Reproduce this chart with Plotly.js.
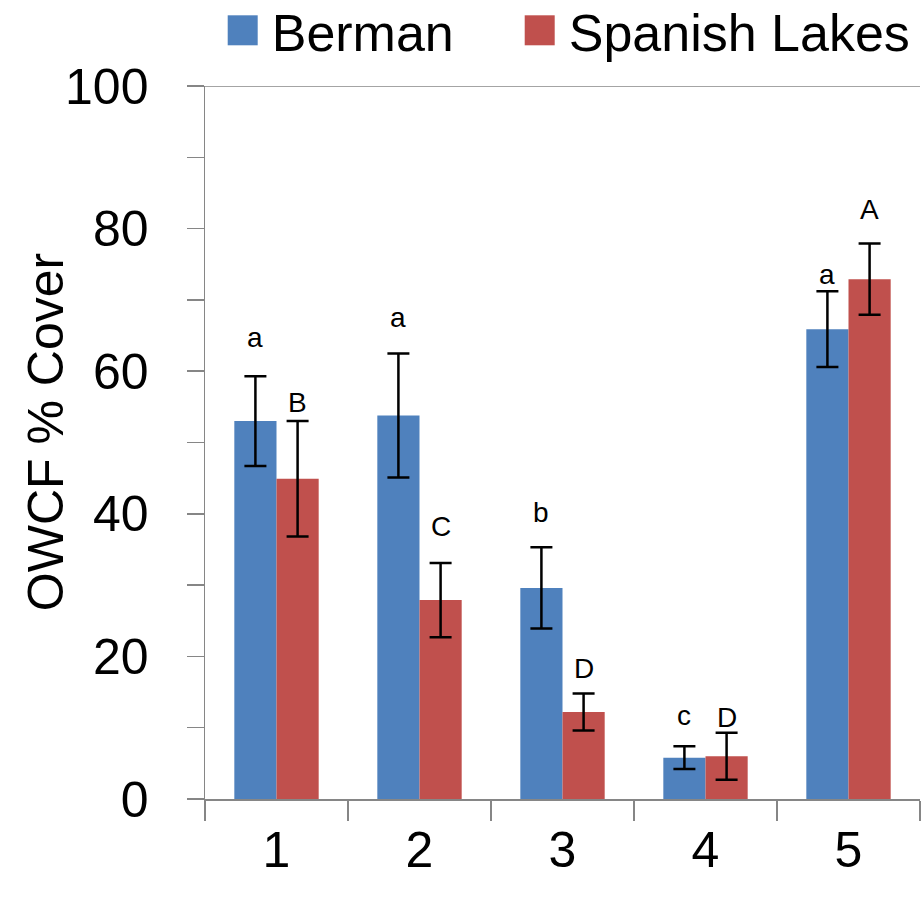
<!DOCTYPE html>
<html>
<head>
<meta charset="utf-8">
<script src="https://cdn.plot.ly/plotly-3.0.1.min.js"></script>
<style>html,body{margin:0;padding:0;background:#fff;}#chart{width:922px;height:901px;}</style>
</head>
<body>
<div id="chart"></div>
<script>
const categories = ['1', '2', '3', '4', '5'];
const berman = [53.0, 53.8, 29.6, 5.8, 65.9];
const bermanErr = [6.3, 8.7, 5.7, 1.6, 5.3];
const spanish = [44.9, 27.9, 12.2, 6.0, 72.9];
const spanishErr = [8.1, 5.2, 2.6, 3.3, 5.0];
const bermanLetters = ['a', 'a', 'b', 'c', 'a'];
const spanishLetters = ['B', 'C', 'D', 'D', 'A'];
const bermanLetterY = [63.3, 66.1, 38.7, 10.2, 72.1];
const spanishLetterY = [54.1, 36.7, 16.8, 10.0, 81.2];

const FONT = 'Liberation Sans, Arial, sans-serif';
const BLUE = '#4F81BD';
const RED = '#C0504D';
const AXIS = '#868686';
const W = 922, H = 901;
const margin = {l: 205, r: 2, t: 86, b: 102};
const bargap = 0.41;

const plotW = W - margin.l - margin.r;
const catW = plotW / categories.length;
const barW = catW * (1 - bargap) / 2;

const traces = [
  {type: 'bar', name: 'Berman', x: categories, y: berman,
   marker: {color: BLUE},
   error_y: {type: 'data', array: bermanErr, visible: true, color: '#000', thickness: 2.5, width: 11}},
  {type: 'bar', name: 'Spanish Lakes', x: categories, y: spanish,
   marker: {color: RED},
   error_y: {type: 'data', array: spanishErr, visible: true, color: '#000', thickness: 2.5, width: 11}}
];

const annotations = [];
categories.forEach((c, i) => {
  annotations.push({xref: 'x', x: i, y: bermanLetterY[i], text: bermanLetters[i], showarrow: false,
    xshift: -barW / 2, yanchor: 'bottom', yshift: -7, font: {family: FONT, size: 28, color: '#000'}});
  annotations.push({xref: 'x', x: i, y: spanishLetterY[i], text: spanishLetters[i], showarrow: false,
    xshift: barW / 2, yanchor: 'bottom', yshift: -7, font: {family: FONT, size: 28, color: '#000'}});
});

const layout = {
  width: W, height: H,
  margin: margin,
  paper_bgcolor: '#fff', plot_bgcolor: '#fff',
  font: {family: FONT, color: '#000'},
  barmode: 'group', bargap: bargap, bargroupgap: 0,
  showlegend: true,
  legend: {orientation: 'h', xref: 'container', yref: 'container', x: 0.2513, y: 1.0,
    xanchor: 'left', yanchor: 'top', font: {family: FONT, size: 52, color: '#000'},
    entrywidth: 252, bgcolor: 'rgba(0,0,0,0)'},
  xaxis: {type: 'category', range: [-0.5, 4.5], showline: true, linecolor: AXIS, linewidth: 1.5,
    ticks: 'outside', tickson: 'boundaries', ticklen: 20, tickcolor: AXIS, tickwidth: 1.5,
    tickfont: {family: FONT, size: 50, color: '#000'}, ticklabelstandoff: 6,
    showgrid: false, zeroline: false},
  yaxis: {range: [0, 100], dtick: 20, showline: true, linecolor: AXIS, linewidth: 1.5,
    ticks: 'outside', ticklen: 17, tickcolor: AXIS, tickwidth: 1.5,
    minor: {dtick: 10, ticks: 'outside', ticklen: 17, tickcolor: AXIS, tickwidth: 1.5, showgrid: false},
    tickfont: {family: FONT, size: 50, color: '#000'}, ticklabelstandoff: 28,
    showgrid: false, zeroline: false,
    title: {text: 'OWCF % Cover', font: {family: FONT, size: 50, color: '#000'}, standoff: 0}},
  shapes: [{type: 'line', xref: 'paper', yref: 'y', x0: 0, x1: 1, y0: 100, y1: 100,
    line: {color: AXIS, width: 1.5}}],
  annotations: annotations
};

Plotly.newPlot('chart', traces, layout, {staticPlot: true}).then(() => {
  document.querySelectorAll('.legend .legendpoints path').forEach(p => {
    const t = p.getAttribute('transform') || '';
    p.setAttribute('transform', t + ' translate(-9,0) scale(2.5)');
  });
  document.querySelectorAll('.legend [clip-path]').forEach(el => el.removeAttribute('clip-path'));
  const lg = document.querySelector('g.legend');
  if (lg) {
    const t = lg.getAttribute('transform') || '';
    lg.setAttribute('transform', t + ' translate(0,-10)');
  }
  const yt = document.querySelector('.g-ytitle');
  if (yt) {
    const b = yt.getBBox();
    const cx = b.x + b.width / 2, cy = b.y + b.height / 2;
    yt.setAttribute('transform', 'translate(' + (46 - cx) + ',' + (432 - cy) + ')');
  }
});
</script>
</body>
</html>
